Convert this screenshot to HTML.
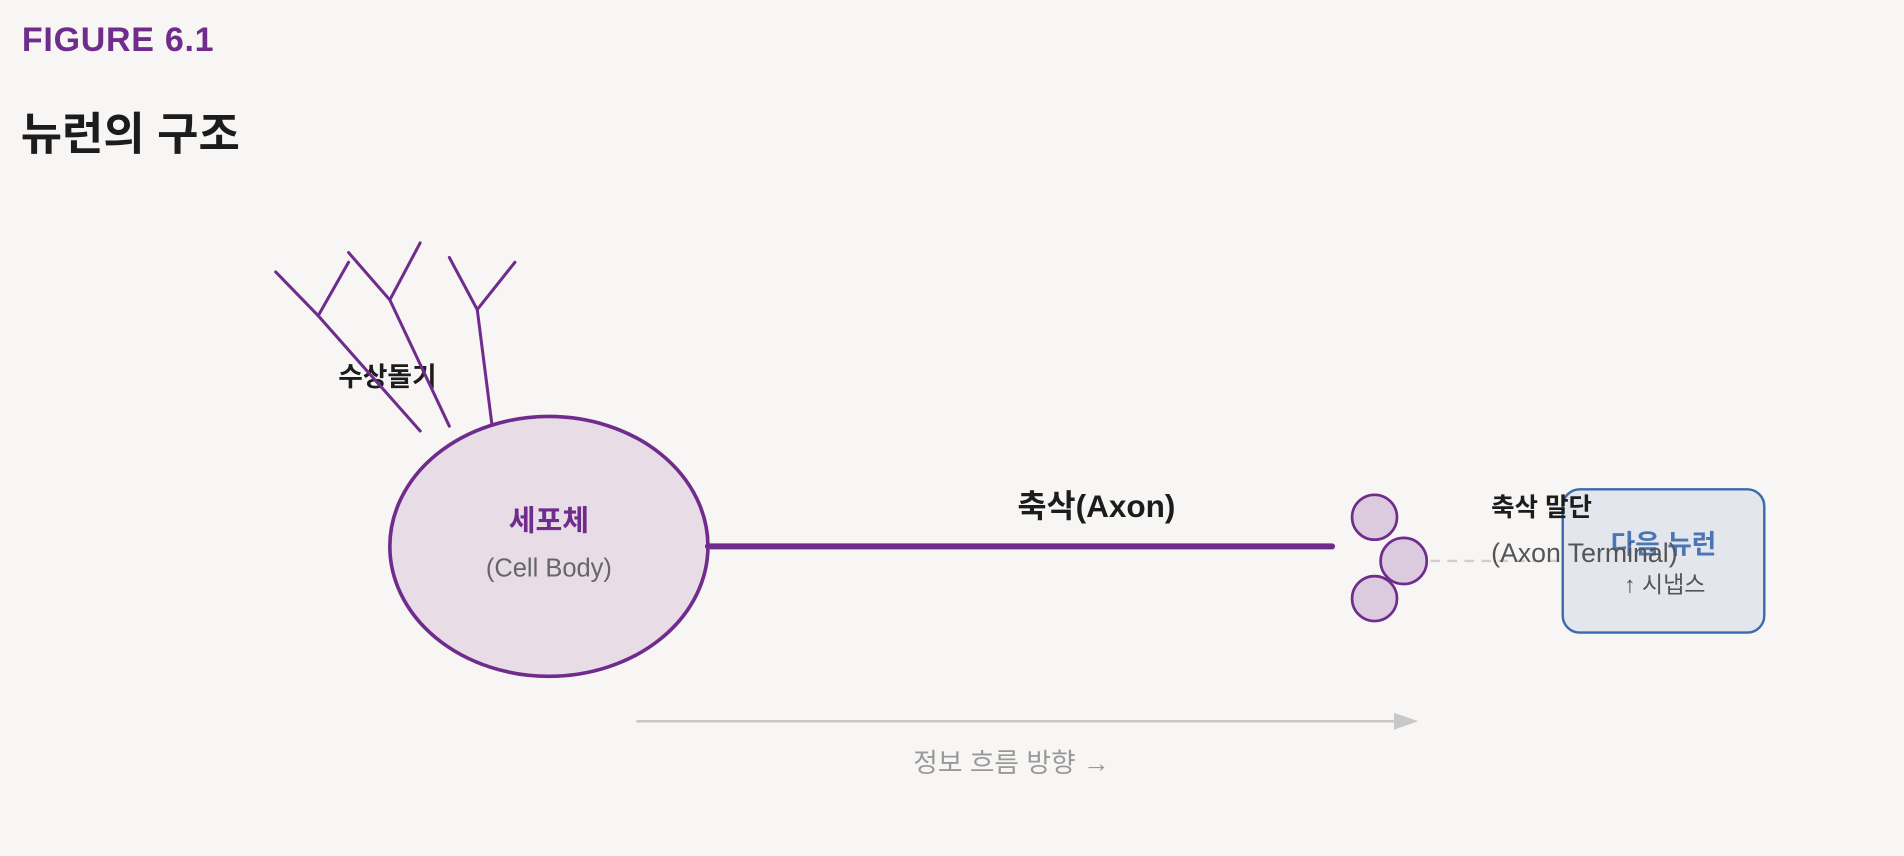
<!DOCTYPE html>
<html><head><meta charset="utf-8"><style>
html,body{margin:0;padding:0;background:#f7f6f4;}
svg{display:block;}
text{font-family:"Liberation Sans","Noto Sans CJK KR",sans-serif;}
</style></head><body>
<svg width="1904" height="856" viewBox="0 0 1568 705" xmlns="http://www.w3.org/2000/svg">
<rect width="1568" height="705" fill="#f7f6f4"/>
<text x="18" y="42" font-size="28" font-weight="bold" fill="#6f2c8c" letter-spacing="0.6">FIGURE 6.1</text>
<text x="17" y="123" font-size="37" font-weight="bold" fill="#1c1c1c">뉴런의 구조</text>
<text x="319" y="318" font-size="22" font-weight="bold" fill="#1c1c1c" text-anchor="middle">수상돌기</text>
<g stroke="#6f2c8c" stroke-width="2.5" fill="none" stroke-linecap="round">
<polyline points="227,224 262,260 346,355"/>
<line x1="262" y1="260" x2="287" y2="216"/>
<polyline points="287,208 321,247 370,351"/>
<line x1="321" y1="247" x2="346" y2="200"/>
<polyline points="370,212 393,255 405,349"/>
<line x1="393" y1="255" x2="424" y2="216"/>
</g>
<ellipse cx="452" cy="450" rx="131" ry="107" fill="#e8dde7" stroke="#6f2c8c" stroke-width="3"/>
<text x="452" y="437" font-size="24" font-weight="bold" fill="#6f2c8c" text-anchor="middle">세포체</text>
<text x="452" y="475" font-size="21" fill="#666" text-anchor="middle">(Cell Body)</text>
<line x1="583" y1="450" x2="1097" y2="450" stroke="#6f2c8c" stroke-width="5" stroke-linecap="round"/>
<text x="903" y="426" font-size="26" font-weight="bold" fill="#1c1c1c" text-anchor="middle">축삭(Axon)</text>
<line x1="1178" y1="462" x2="1290" y2="462" stroke="#cfcfcf" stroke-width="2" stroke-dasharray="8,6"/>
<g fill="#dccbdf" stroke="#6f2c8c" stroke-width="2.2">
<circle cx="1132" cy="426" r="18.5"/>
<circle cx="1132" cy="493" r="18.5"/>
<circle cx="1156" cy="462" r="19"/>
</g>
<rect x="1287" y="403" width="166" height="118" rx="14" fill="#e3e6ec" stroke="#3b6aad" stroke-width="2"/>
<text x="1370" y="456" font-size="22" font-weight="bold" fill="#3b6aad" text-anchor="middle" opacity="0.9">다음 뉴런</text>
<text x="1371" y="488" font-size="19" fill="#555" text-anchor="middle">↑ 시냅스</text>
<text x="1228" y="425" font-size="21" font-weight="bold" fill="#1c1c1c">축삭 말단</text>
<text x="1228" y="463" font-size="22" fill="#555">(Axon Terminal)</text>
<line x1="524" y1="594" x2="1152" y2="594" stroke="#c8c8c8" stroke-width="2"/>
<polygon points="1148,587 1168,594 1148,601" fill="#c8c8c8"/>
<text x="833" y="636" font-size="22" fill="#999" text-anchor="middle">정보 흐름 방향 →</text>
</svg>
</body></html>
